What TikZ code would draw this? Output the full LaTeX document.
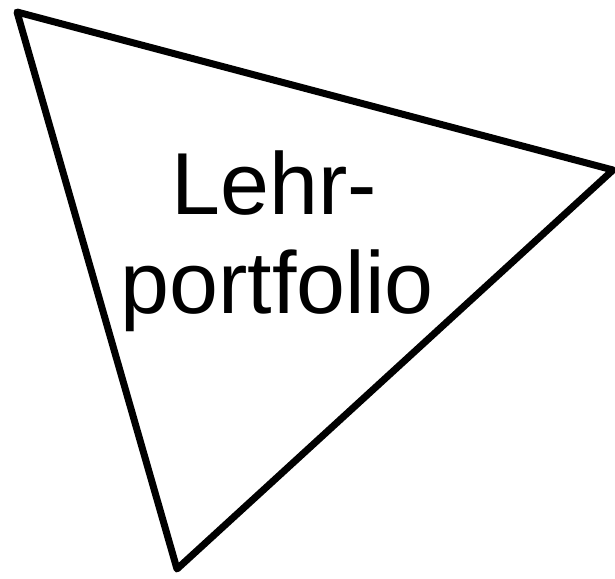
\documentclass[tikz,border=0pt]{standalone}
\usepackage{fontspec}
\setmainfont{Liberation Sans}
\begin{document}
\begin{tikzpicture}[x=1pt,y=-1pt,
  tri/.style={line width=7pt,line join=round},
  lbl/.style={font=\fontsize{88}{99}\selectfont,align=center,inner sep=0pt}]
\useasboundingbox (0,0) rectangle (615,578);
\coordinate (a) at (17,12);
\coordinate (b) at (613,170);
\coordinate (c) at (177,569);
\draw[tri] (a) -- (b) -- (c) -- cycle;
\node[lbl,anchor=base] (t) at (277,313) {portfolio};
\node[lbl,anchor=base] (t2) at (274,214) {Lehr-};
\end{tikzpicture}
\end{document}
